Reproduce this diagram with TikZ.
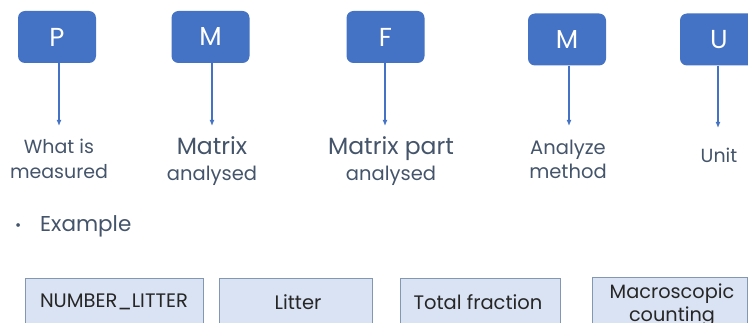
\documentclass[tikz,border=0pt]{standalone}
\usepackage{fontspec}
\setmainfont{Poppins}
\usetikzlibrary{arrows.meta}
\definecolor{boxblue}{HTML}{4472C4}
\definecolor{labelgray}{HTML}{44546A}
\definecolor{lightfill}{HTML}{DAE3F3}
\definecolor{lightedge}{HTML}{8497B0}
\definecolor{darktext}{HTML}{262626}
\begin{document}
\begin{tikzpicture}[x=1pt,y=-1pt,
  letterbox/.style={fill=boxblue,rounded corners=7pt,minimum width=78pt,minimum height=52pt,
     text=white,font=\fontsize{26}{28}\selectfont,inner sep=0pt},
  pointer/.style={boxblue,line width=1.2pt,-{Latex[length=6pt,width=5pt]}},
  lbl/.style={text=labelgray,align=center,inner sep=0pt},
  exbox/.style={fill=lightfill,draw=lightedge,line width=0.8pt,minimum height=52pt,
     inner sep=0pt,anchor=north west},
  extext/.style={text=darktext,font=\fontsize{19.5}{24}\selectfont,inner sep=0pt,align=center}]
\useasboundingbox (0,0) rectangle (748,323);
\clip (0,0) rectangle (748,323);
% top letter boxes
\node[letterbox] (p)  at (57,37) {P};
\node[letterbox] (m1) at (210.5,37) {M};
\node[letterbox] (f)  at (385.5,37) {F};
\node[letterbox] (m2) at (567,39.5) {M};
\node[letterbox] (u)  at (719,39.5) {U};
% arrow ends
\coordinate (pe)  at (59,126);
\coordinate (m1e) at (212,126);
\coordinate (fe)  at (385,126);
\coordinate (m2e) at (569,126);
\coordinate (ue)  at (718,128);
\draw[pointer] (p.south -| pe) -- (pe);
\draw[pointer] (m1.south -| m1e) -- (m1e);
\draw[pointer] (f.south -| fe) -- (fe);
\draw[pointer] (m2.south -| m2e) -- (m2e);
\draw[pointer] (u.south -| ue) -- (ue);
% labels
\node[lbl,font=\fontsize{19}{25}\selectfont] (lp) at (59,159) {What is\\measured};
\node[lbl,font=\fontsize{19.5}{26}\selectfont] (lm1) at (212,161) {{\fontsize{23.5}{26}\selectfont Matrix}\\analysed};
\node[lbl,font=\fontsize{19.5}{26}\selectfont] (lf) at (391,161) {{\fontsize{23.5}{26}\selectfont Matrix part}\\analysed};
\node[lbl,font=\fontsize{19.5}{24}\selectfont] (lm2) at (568,159) {Analyze\\method};
\node[lbl,font=\fontsize{19}{24}\selectfont] (lu) at (719,155) {Unit};
% example
\node[lbl,anchor=west,font=\fontsize{15}{18}\selectfont] (bul) at (15,227) {•};
\node[lbl,anchor=west,font=\fontsize{21.5}{24}\selectfont] (ex) at (40,226) {Example};
% example boxes
\node[exbox,minimum width=178pt] (b1) at (25,278) {};
\node[extext] (t1) at (114,302) {NUMBER\_LITTER};
\node[exbox,minimum width=153pt] (b2) at (219,278) {};
\node[extext] (t2) at (298,302) {Litter};
\node[exbox,minimum width=160pt] (b3) at (400,278) {};
\node[extext] (t3) at (478,302) {Total fraction};
\node[exbox,minimum width=155pt] (b4) at (592,277) {};
\node[extext,anchor=north,font=\fontsize{19.3}{23}\selectfont] (t4) at (672,284) {Macroscopic\\counting};
\end{tikzpicture}
\end{document}
